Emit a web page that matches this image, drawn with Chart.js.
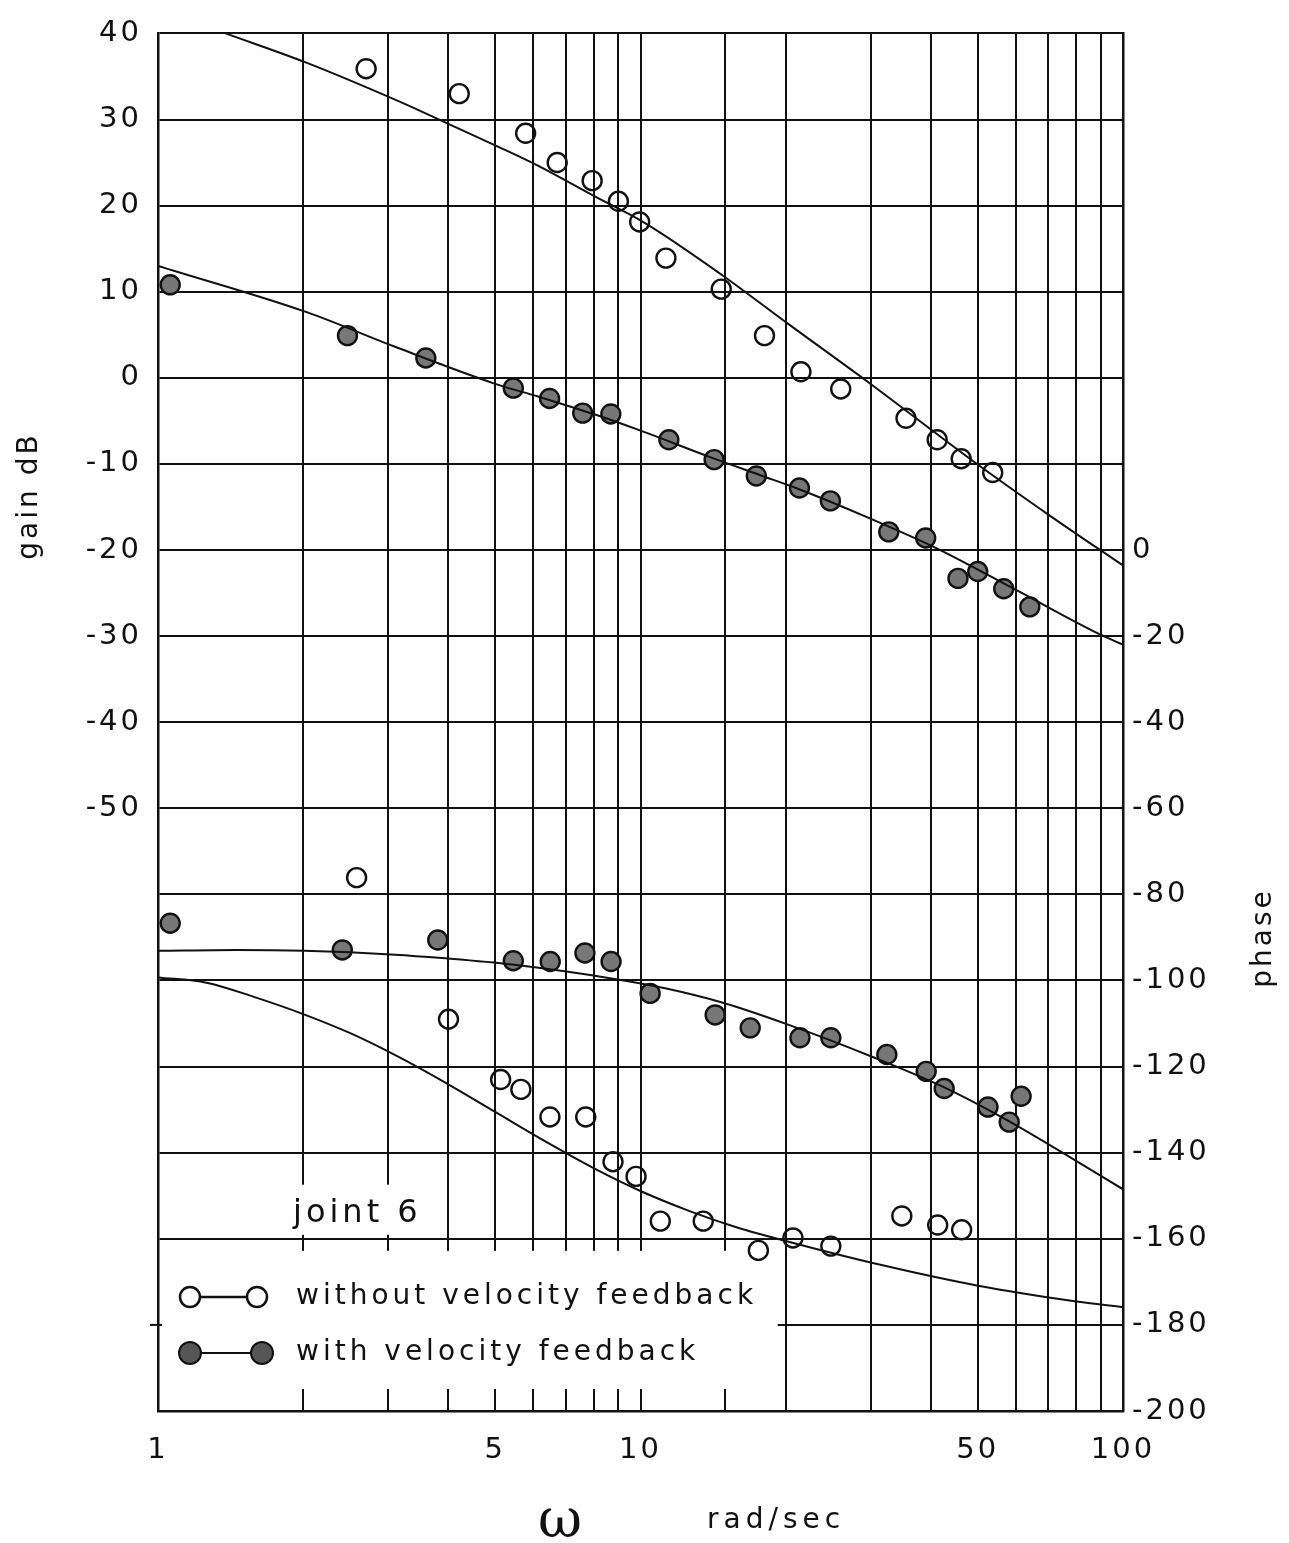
<!DOCTYPE html>
<html><head><meta charset="utf-8">
<script src="https://cdn.jsdelivr.net/npm/chart.js@4.4.1/dist/chart.umd.min.js"></script>
<style>html,body{margin:0;padding:0;background:#fff;}#wrap{width:1289px;height:1543px;position:relative;}</style>
</head><body><div id="wrap"><canvas id="c" width="1289" height="1543"></canvas></div>
<script>
// ---- tick labels ----
const xTickLabels = [1, 5, 10, 50, 100];
const gainTickLabels = [40, 30, 20, 10, 0, -10, -20, -30, -40, -50];
const phaseTickLabels = [0, -20, -40, -60, -80, -100, -120, -140, -160, -180, -200];

// ---- gain, without velocity feedback (measured points) ----
const gainWithoutW  = [2.70, 4.21, 5.78, 6.72, 7.94, 9.00, 9.96, 11.29, 14.70, 18.07, 21.5, 26.0, 35.5, 41.2, 46.2, 53.7];
const gainWithoutDb = [35.9, 33.0, 28.4, 25.0, 22.9, 20.5, 18.1, 13.9, 10.3, 4.9, 0.7, -1.3, -4.7, -7.2, -9.4, -11.0];
// ---- gain, with velocity feedback (measured points) ----
const gainWithW  = [1.06, 2.47, 3.59, 5.45, 6.48, 7.59, 8.68, 11.45, 14.21, 17.38, 21.35, 24.75, 32.7, 39.0, 45.5, 50.0, 56.6, 64.1];
const gainWithDb = [10.8, 4.9, 2.3, -1.2, -2.4, -4.1, -4.2, -7.2, -9.5, -11.4, -12.8, -14.3, -17.9, -18.6, -23.3, -22.5, -24.5, -26.6];
// ---- gain fitted curves ----
const gainFitWithoutW  = [1.38, 2.03, 3.10, 3.72, 5.09, 6.10, 8.02, 10.2, 14.7, 20.3, 29.8, 48.7, 70.5, 100];
const gainFitWithoutDb = [40.0, 36.6, 32.3, 30.3, 26.8, 24.7, 21.1, 18.0, 12.0, 6.2, -0.6, -9.6, -16.0, -21.8];
const gainFitWithW  = [1, 2.04, 3.10, 5.00, 6.15, 8.08, 10.07, 14.08, 17.9, 21.0, 29.8, 41.1, 60.3, 89.6, 100];
const gainFitWithDb = [13.0, 7.6, 3.6, -0.7, -2.2, -4.3, -6.2, -9.3, -11.4, -12.8, -16.3, -19.8, -24.7, -29.8, -31.0];

// ---- phase, without velocity feedback (measured points) ----
const phaseWithoutW   = [2.58, 4.00, 5.13, 5.65, 6.49, 7.70, 8.77, 9.79, 10.99, 13.49, 17.55, 20.7, 24.8, 34.8, 41.3, 46.3];
const phaseWithoutDeg = [-76.1, -109.0, -123.0, -125.3, -131.7, -131.7, -142.1, -145.5, -155.9, -155.9, -162.7, -159.8, -161.7, -154.7, -156.8, -157.9];
// ---- phase, with velocity feedback (measured points) ----
const phaseWithW   = [1.06, 2.41, 3.80, 5.45, 6.50, 7.67, 8.69, 10.47, 14.28, 16.88, 21.4, 24.8, 32.4, 39.1, 42.6, 52.5, 58.1, 61.5];
const phaseWithDeg = [-86.7, -92.9, -90.6, -95.4, -95.6, -93.6, -95.6, -103.0, -108.0, -111.0, -113.3, -113.3, -117.2, -121.1, -125.1, -129.4, -132.9, -126.9];
// ---- phase fitted curves ----
const phaseFitWithW   = [1, 1.45, 2.01, 3.10, 3.88, 5.42, 9.03, 11.25, 14.76, 20.3, 30.2, 42.2, 57.0, 77.3, 100];
const phaseFitWithDeg = [-93.1, -92.9, -93.1, -94.0, -94.8, -96.3, -99.8, -101.8, -105.1, -110.3, -117.7, -124.6, -132.2, -140.9, -148.5];
const phaseFitWithoutW   = [1, 1.26, 1.58, 2.0, 2.51, 3.16, 3.98, 5.01, 6.31, 7.94, 10, 12.6, 15.8, 20, 31.6, 50.1, 79.4, 100];
const phaseFitWithoutDeg = [-99.3, -100.5, -103.8, -107.8, -112.3, -117.8, -124.0, -130.6, -137.2, -143.4, -148.9, -153.5, -157.3, -160.5, -166.1, -170.9, -174.5, -175.9];

const pts = (xs, ys) => xs.map((v, i) => ({x: v, y: ys[i]}));

const INK = '#111';
const FONT = '"DejaVu Sans", "Liberation Sans", sans-serif';

const lineDs = (data, axis) => ({
  data, yAxisID: axis, showLine: true, pointRadius: 0, borderColor: INK,
  borderWidth: 2, cubicInterpolationMode: 'monotone', fill: false
});
const openDs = (data, axis) => ({
  data, yAxisID: axis, showLine: false, pointRadius: 9.5, pointHoverRadius: 9.5,
  pointBorderWidth: 2.4, borderColor: INK, backgroundColor: 'rgba(0,0,0,0)', pointBackgroundColor: 'rgba(0,0,0,0)'
});
const filledDs = (data, axis) => ({
  data, yAxisID: axis, showLine: false, pointRadius: 9.5, pointHoverRadius: 9.5,
  pointBorderWidth: 2.4, borderColor: INK, backgroundColor: '#777', pointBackgroundColor: '#777'
});

const decor = {
  id: 'decor',
  beforeDraw(chart) {
    const ctx = chart.ctx;
    ctx.save(); ctx.fillStyle = '#fff'; ctx.fillRect(0, 0, chart.width, chart.height); ctx.restore();
    if ('letterSpacing' in ctx) ctx.letterSpacing = '3px';
  },
  beforeDatasetsDraw(chart) {
    const {ctx, chartArea: a, scales} = chart;
    const x = scales.x, yp = scales.y2;
    const l = a.left + 2;
    const xr20 = x.getPixelForValue(20) - 8;
    const xr4 = x.getPixelForValue(4) - 8;
    const y160 = yp.getPixelForValue(-160), y140 = yp.getPixelForValue(-140);
    ctx.save();
    ctx.fillStyle = '#fff';
    ctx.fillRect(l, y160 + 12, xr20 - l, (a.bottom - 22) - (y160 + 12));
    ctx.fillRect(l, y140 + 32, xr4 - l, (y160 - 4) - (y140 + 32));
    ctx.restore();
  },
  afterDraw(chart) {
    const {ctx, chartArea: a, scales} = chart;
    const ls = v => { if ('letterSpacing' in ctx) ctx.letterSpacing = v; };
    ctx.save();
    ctx.fillStyle = INK; ctx.strokeStyle = INK;
    // small tick at -180 left edge
    const y180 = scales.y2.getPixelForValue(-180);
    ctx.lineWidth = 2; ctx.beginPath(); ctx.moveTo(a.left - 8, y180); ctx.lineTo(a.left + 4, y180); ctx.stroke();
    // axis titles
    ctx.font = '28px ' + FONT; ls('3px');
    ctx.textAlign = 'center'; ctx.textBaseline = 'middle';
    ctx.save(); ctx.translate(30, 496); ctx.rotate(-Math.PI / 2); ctx.fillText('gain dB', 0, 0); ctx.restore();
    ctx.save(); ctx.translate(1264, 938); ctx.rotate(-Math.PI / 2); ctx.fillText('phase', 0, 0); ctx.restore();
    ctx.textAlign = 'left'; ctx.textBaseline = 'alphabetic';
    ls('0px'); ctx.font = '54px "DejaVu Serif", serif'; ctx.fillText('ω', 538, 1537);
    ls('5px'); ctx.font = '28px ' + FONT; ctx.fillText('rad/sec', 707, 1528);
    // joint label
    ls('4px'); ctx.font = '32px ' + FONT; ctx.fillText('joint 6', 293, 1222);
    // legend
    ls('4px'); ctx.font = '28px ' + FONT;
    ctx.fillText('without velocity feedback', 296, 1304);
    ctx.fillText('with velocity feedback', 296, 1360);
    ctx.lineWidth = 2.5;
    ctx.beginPath(); ctx.moveTo(200, 1297); ctx.lineTo(247, 1297); ctx.stroke();
    [190, 257].forEach(cx => { ctx.beginPath(); ctx.arc(cx, 1297, 10, 0, Math.PI * 2); ctx.stroke(); });
    ctx.beginPath(); ctx.moveTo(200, 1353); ctx.lineTo(252, 1353); ctx.lineWidth = 2; ctx.stroke();
    ctx.fillStyle = '#555';
    [190, 262].forEach(cx => { ctx.beginPath(); ctx.arc(cx, 1353, 11, 0, Math.PI * 2); ctx.fill(); ctx.lineWidth = 2; ctx.stroke(); });
    ctx.restore();
    ls('0px');
  }
};

new Chart(document.getElementById('c'), {
  type: 'scatter',
  data: {
    datasets: [
      lineDs(pts(gainFitWithoutW, gainFitWithoutDb), 'y'),
      lineDs(pts(gainFitWithW, gainFitWithDb), 'y'),
      lineDs(pts(phaseFitWithW, phaseFitWithDeg), 'y2'),
      lineDs(pts(phaseFitWithoutW, phaseFitWithoutDeg), 'y2'),
      openDs(pts(gainWithoutW, gainWithoutDb), 'y'),
      filledDs(pts(gainWithW, gainWithDb), 'y'),
      openDs(pts(phaseWithoutW, phaseWithoutDeg), 'y2'),
      filledDs(pts(phaseWithW, phaseWithDeg), 'y2')
    ]
  },
  options: {
    responsive: false, animation: false, devicePixelRatio: 1,
    layout: {padding: {top: 27, left: 0, right: 0, bottom: 0}},
    plugins: {legend: {display: false}, tooltip: {enabled: false}},
    events: [],
    scales: {
      x: {
        type: 'logarithmic', min: 1, max: 100, position: 'bottom',
        afterFit: s => { s.height = 132; },
        grid: {color: INK, lineWidth: 2, drawTicks: false},
        border: {display: true, color: INK, width: 2.5},
        ticks: {
          autoSkip: false, maxRotation: 0, minRotation: 0, padding: 22, color: INK,
          font: {family: FONT, size: 29},
          callback: v => xTickLabels.includes(v) ? String(v) : ''
        }
      },
      y: {
        type: 'linear', min: -120, max: 40, position: 'left',
        afterFit: s => { s.width = 158; },
        grid: {color: INK, lineWidth: 2, drawTicks: false},
        border: {display: true, color: INK, width: 2.5},
        ticks: {
          stepSize: 10, autoSkip: false, padding: 16, color: INK,
          font: {family: FONT, size: 29},
          callback: v => gainTickLabels.includes(v) ? String(v) : ''
        }
      },
      y2: {
        type: 'linear', min: -200, max: 120, position: 'right',
        afterFit: s => { s.width = 166; },
        grid: {display: false, drawTicks: false},
        border: {display: true, color: INK, width: 2.5},
        ticks: {
          stepSize: 20, autoSkip: false, padding: 9, color: INK,
          font: {family: FONT, size: 29},
          callback: v => phaseTickLabels.includes(v) ? String(v) : ''
        }
      }
    }
  },
  plugins: [decor]
});
</script>
</body></html>
